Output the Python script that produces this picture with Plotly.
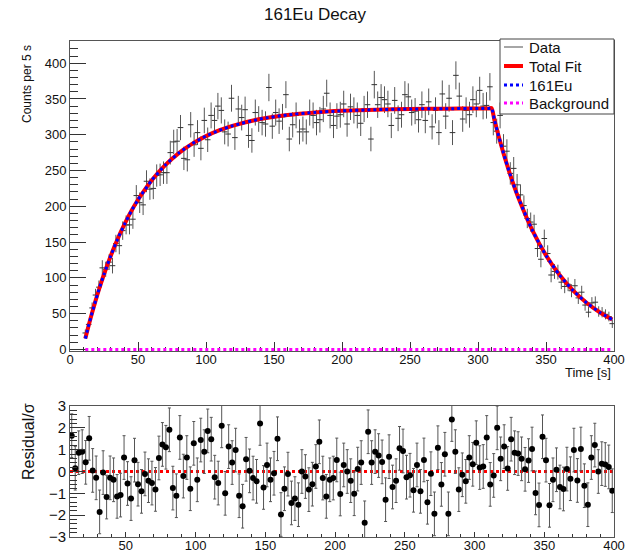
import numpy as np
import plotly.graph_objects as go

# ---------------- data ----------------
bin_low, bin_high, bin_width = 10.0, 400.0, 2.5
time_s = np.arange(bin_low + bin_width / 2, bin_high, bin_width)  # bin centres

counts = [
    23, 35, 58, 76, 87, 114, 112, 122, 117, 148,
    145, 166, 174, 174, 182, 215, 205, 202, 235, 224,
    225, 243, 244, 247, 247, 275, 290, 291, 310, 267,
    265, 314, 286, 303, 281, 320, 293, 327, 320, 340,
    334, 304, 301, 351, 296, 336, 324, 335, 299, 292,
    331, 322, 317, 315, 366, 312, 331, 319, 325, 356,
    294, 314, 327, 304, 308, 304, 331, 327, 317, 321,
    336, 358, 327, 313, 326, 328, 343, 315, 339, 334,
    327, 316, 336, 342, 294, 370, 342, 352, 349, 343,
    313, 348, 323, 328, 356, 353, 331, 333, 321, 342,
    320, 346, 311, 334, 303, 357, 326, 351, 303, 383,
    354, 322, 334, 328, 349, 343, 362, 340, 341, 367,
    317, 305, 327, 284, 277, 246, 253, 230, 216, 201,
    183, 178, 175, 141, 126, 155, 134, 104, 109, 108,
    94, 88, 91, 82, 89, 72, 80, 62, 52, 65,
    66, 53, 52, 49, 46, 36,
]

residuals = [
    1.64, 0.15, 0.86, 0.91, 0.42, 1.52, 0.05, -0.29, -1.85, -0.05,
    -1.17, -0.29, -0.38, -1.14, -1.08, 0.64, -0.55, -1.24, 0.52, -0.58,
    -0.91, -0.11, -0.42, -0.53, -0.82, 0.62, 1.24, 1.11, 1.91, -0.76,
    -1.11, 1.56, -0.21, 0.64, -0.79, 1.29, -0.38, 1.44, 0.91, 1.86,
    1.48, -0.26, -0.53, 2.09, -1.00, 1.14, 0.41, 0.98, -1.11, -1.59,
    0.56, 0.03, -0.30, -0.45, 2.20, -0.73, 0.30, -0.38, -0.08, 1.50,
    -1.97, -0.79, -0.12, -1.44, -1.24, -1.52, 0.00, -0.23, -0.83, -0.58,
    0.23, 1.36, -0.30, -1.14, -0.38, -0.30, 0.53, -1.03, 0.30, 0.00,
    -0.42, -1.02, 0.11, 0.41, -2.35, 1.82, 0.41, 0.91, 0.73, 0.44,
    -1.29, 0.68, -0.71, -0.42, 1.06, 0.94, -0.26, -0.17, -0.86, 0.30,
    -0.91, 0.53, -1.41, -0.10, -1.94, 1.09, -0.59, 0.79, -1.94, 2.38,
    0.91, -0.83, -0.15, -0.45, 0.64, 0.33, 1.32, 0.18, 0.23, 1.56,
    -0.59, -0.18, 2.00, 0.58, 1.14, 0.14, 1.48, 0.86, 0.82, 0.58,
    0.10, 0.50, 1.03, -0.98, -1.53, 1.59, 0.52, -1.55, -0.38, 0.08,
    -0.71, -0.80, 0.11, -0.33, 0.98, -0.41, 1.03, -0.65, -1.52, 0.64,
    1.21, 0.00, 0.36, 0.32, 0.21, -0.88,
]
residual_err = [1.0] * len(residuals)

fit_time = [11.25, 13.75, 16.25, 18.75, 21.25, 25, 30, 35, 40, 45, 50, 60, 70, 80,
            90, 100, 110, 120, 140, 160, 180, 200, 225, 250, 275, 300, 308, 310,
            312, 315, 320, 325, 330, 340, 350, 360, 370, 380, 390, 398.75]
fit_total = [15.2, 33.8, 51.3, 67.8, 83.4, 105.1, 131.0, 154.2, 174.7, 193.0, 209.1,
             236.2, 257.5, 274.4, 287.6, 298.1, 306.3, 312.8, 322.0, 327.7, 331.2,
             333.4, 335.0, 336.0, 336.4, 336.7, 336.8, 337.2, 321.3, 299.4, 266.2,
             236.6, 210.4, 166.3, 131.4, 103.9, 82.1, 64.9, 51.3, 41.7]
background_level = 0.0
fit_eu = [v - background_level for v in fit_total]
fit_bkg = [background_level] * len(fit_time)

legend_labels = ["Data", "Total Fit", "161Eu", "Background"]

data_err = np.sqrt(np.array(counts, dtype=float))

FONT = "Liberation Sans, Arial, Helvetica, sans-serif"
W, H = 631, 555

fig = go.Figure()

# ---------------- top panel ----------------
fig.add_trace(go.Scatter(
    x=time_s, y=counts, mode="markers", showlegend=False,
    marker=dict(symbol="line-ew", size=4, line=dict(width=1, color="#333")),
    error_y=dict(type="data", array=data_err, thickness=1, width=0, color="#555"),
    xaxis="x", yaxis="y"))

fig.add_trace(go.Scatter(
    x=fit_time, y=fit_total, mode="lines", name="Total Fit", showlegend=False,
    line=dict(color="#ff0000", width=4, shape="spline", smoothing=0.6),
    xaxis="x", yaxis="y"))
fig.add_trace(go.Scatter(
    x=fit_time, y=fit_eu, mode="lines", name="161Eu", showlegend=False,
    line=dict(color="#0000ff", width=3, dash="dot", shape="spline", smoothing=0.6),
    xaxis="x", yaxis="y"))
fig.add_trace(go.Scatter(
    x=fit_time, y=fit_bkg, mode="lines", name="Background", showlegend=False,
    line=dict(color="#ff00ff", width=3, dash="dot"), cliponaxis=False,
    xaxis="x", yaxis="y"))

# ---------------- residual panel ----------------
fig.add_trace(go.Scatter(
    x=[bin_low, bin_high], y=[0, 0], mode="lines", showlegend=False,
    line=dict(color="#ff0000", width=3, dash="dot"),
    xaxis="x2", yaxis="y2"))
fig.add_trace(go.Scatter(
    x=time_s, y=residuals, mode="markers", showlegend=False,
    marker=dict(symbol="circle", size=6, color="#000"),
    error_y=dict(type="data", array=residual_err, thickness=1, width=1.5, color="#555"),
    xaxis="x2", yaxis="y2"))

xdom = [70 / W, 614 / W]
axis_common = dict(showgrid=False, zeroline=False, showline=True, mirror=True,
                   linecolor="#555", linewidth=1, ticks="inside", tickcolor="#333",
                   automargin=False, tickfont=dict(family=FONT, size=13, color="#111"))

# ---------------- legend (drawn as box + samples + text) ----------------
def px(x):
    return x / W


def py(y):
    return 1 - y / H


legend_rows = [47, 66, 85, 103]
legend_styles = [
    dict(color="#888", width=1.5),
    dict(color="#ff0000", width=4),
    dict(color="#0000ff", width=3, dash="dot"),
    dict(color="#ff00ff", width=3, dash="dot"),
]
shapes = [dict(type="rect", xref="paper", yref="paper", x0=px(500), x1=px(614),
               y0=py(114), y1=py(39), line=dict(color="#444", width=1),
               fillcolor="white", layer="above")]
annotations = []
for lab, row, sty in zip(legend_labels, legend_rows, legend_styles):
    shapes.append(dict(type="line", xref="paper", yref="paper", x0=px(504), x1=px(523),
                       y0=py(row), y1=py(row), line=sty, layer="above"))
    annotations.append(dict(text=lab, x=px(527), y=py(row), xref="paper", yref="paper",
                            showarrow=False, xanchor="left", yanchor="middle",
                            font=dict(family=FONT, size=15, color="#111")))

annotations += [
    dict(text="161Eu Decay", x=0.5, y=py(15), xref="paper", yref="paper",
         showarrow=False, font=dict(family=FONT, size=17, color="#111"),
         xanchor="center", yanchor="middle"),
    dict(text="Counts per 5 s", x=px(27), y=py(43), xref="paper", yref="paper",
         showarrow=False, textangle=-90, font=dict(family=FONT, size=12, color="#111"),
         xanchor="center", yanchor="top"),
    dict(text="Time [s]", x=px(613), y=py(372), xref="paper", yref="paper",
         showarrow=False, font=dict(family=FONT, size=13, color="#111"),
         xanchor="right", yanchor="middle"),
    dict(text="Residual/σ", x=px(28), y=py(442), xref="paper", yref="paper",
         showarrow=False, textangle=-90, font=dict(family=FONT, size=16, color="#111"),
         xanchor="center", yanchor="middle"),
]

fig.update_layout(
    width=W, height=H, margin=dict(l=0, r=0, t=0, b=0),
    paper_bgcolor="white", plot_bgcolor="white",
    font=dict(family=FONT, color="#111"),
    showlegend=False,
    xaxis=dict(domain=xdom, range=[0, 400], anchor="y", tick0=0, dtick=50, ticklen=9,
               minor=dict(dtick=10, ticks="inside", ticklen=4.5, tickcolor="#333"),
               ticklabelstandoff=-4, layer="below traces", **axis_common),
    yaxis=dict(domain=[py(351), py(41)], range=[-2.2, 431], anchor="x", tick0=0,
               dtick=50, ticklen=16,
               minor=dict(dtick=10, ticks="inside", ticklen=8, tickcolor="#333"),
               layer="below traces", **axis_common),
    xaxis2=dict(domain=xdom, range=[bin_low, bin_high], anchor="y2", tick0=0, dtick=50,
                ticklen=5, minor=dict(dtick=10, ticks="inside", ticklen=3, tickcolor="#333"),
                ticklabelstandoff=-4, **axis_common),
    yaxis2=dict(domain=[py(537), py(406)], range=[-3, 3], anchor="x2", tick0=0,
                dtick=1, ticklen=15,
                minor=dict(dtick=0.2, ticks="inside", ticklen=7, tickcolor="#333"),
                **{**axis_common, "tickfont": dict(family=FONT, size=15, color="#111")}),
    shapes=shapes,
    annotations=annotations,
)

fig.write_html("out.html")
